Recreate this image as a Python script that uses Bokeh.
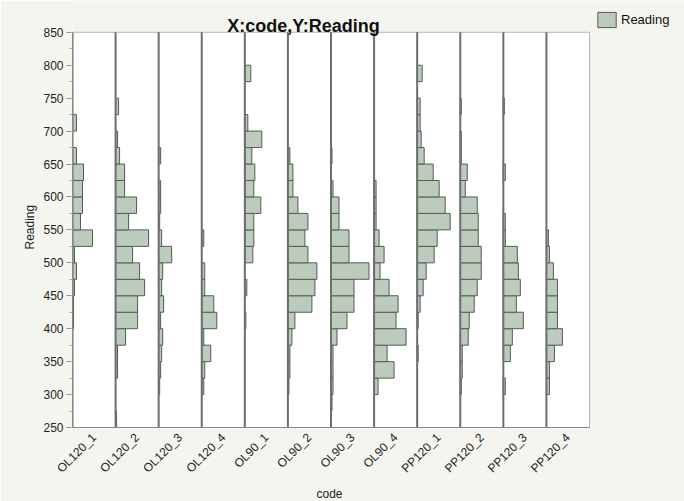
from bokeh.plotting import figure
from bokeh.models import (ColumnDataSource, FixedTicker, SingleIntervalTicker, Legend,
                          LegendItem, Title, Range1d, Label)
from bokeh.embed import file_html
from bokeh.resources import INLINE
import math

codes = ["OL120_1", "OL120_2", "OL120_3", "OL120_4", "OL90_1", "OL90_2",
         "OL90_3", "OL90_4", "PP120_1", "PP120_2", "PP120_3", "PP120_4"]
# bin lower edges 250, 275, ..., 825 (width 25)
bin_starts = list(range(250, 850, 25))
counts_OL120_1 = [0,0,0,0,0,0,1,1,2,4,2,20,8,10,10,11,4,0,4,0,0,0,0,0]
counts_OL120_2 = [1,0,0,2,2,10,22,22,29,24,17,33,13,21,9,9,4,2,0,3,0,0,0,0]
counts_OL120_3 = [0,0,1,2,3,4,2,5,3,4,13,3,1,2,2,0,2,0,0,0,0,0,0,0]
counts_OL120_4 = [0,0,2,3,9,2,15,12,3,3,0,2,0,0,0,0,0,0,0,0,0,0,0,0]
counts_OL90_1 = [0,0,0,0,0,0,1,0,2,0,8,9,9,16,9,10,7,17,3,0,0,6,0,0]
counts_OL90_2 = [0,0,1,2,2,4,7,24,27,29,20,17,20,10,5,5,2,0,0,0,0,0,0,0]
counts_OL90_3 = [0,1,2,2,2,6,16,23,23,38,18,18,8,8,2,0,1,0,0,0,0,0,0,0]
counts_OL90_4 = [0,0,4,20,13,32,22,24,15,6,10,5,2,2,2,0,0,0,0,0,0,0,0,0]
counts_PP120_1 = [0,0,0,0,1,0,1,3,6,9,17,20,33,28,22,16,7,4,3,3,0,5,0,0]
counts_PP120_2 = [0,0,1,2,2,8,9,14,17,21,21,18,18,17,5,7,1,1,0,1,0,0,0,0]
counts_PP120_3 = [0,0,2,0,7,9,20,13,17,15,14,2,2,0,0,2,0,0,0,1,0,0,0,0]
counts_PP120_4 = [0,0,3,3,8,16,11,11,11,7,3,2,0,0,0,0,0,0,0,0,0,0,0,0]
y_min, y_max = 250, 850

all_counts = [counts_OL120_1, counts_OL120_2, counts_OL120_3, counts_OL120_4,
              counts_OL90_1, counts_OL90_2, counts_OL90_3, counts_OL90_4,
              counts_PP120_1, counts_PP120_2, counts_PP120_3, counts_PP120_4]

# layout (pixels)
W, H = 684, 501
LEFT, BOTTOM_PX = 72, 430          # frame left edge, y of value 250
PLOT_W, PLOT_H = 517, 398          # width of the 12 bands, height of 250..850
n = len(codes)
px_per_x = PLOT_W / n
px_per_y = PLOT_H / (y_max - y_min)
x_end = (W - LEFT) / px_per_x
y_end = y_min + BOTTOM_PX / px_per_y   # frame reaches the top of the canvas

k = 1.0 / px_per_x  # one count = one pixel of bar length

ys, lefts, rights = [], [], []
for i, cnts in enumerate(all_counts):
    for b, c in zip(bin_starts, cnts):
        if c > 0:
            ys.append(b + 12.5)
            lefts.append(i)
            rights.append(i + c * k)
src = ColumnDataSource(dict(y=ys, left=lefts, right=rights))

BG = "#f5f5f0"
p = figure(width=W, height=H, output_backend="svg", toolbar_location=None,
           x_range=Range1d(0, x_end), y_range=Range1d(y_min, y_end),
           min_border_left=LEFT, min_border_right=0, min_border_top=0,
           min_border_bottom=H - BOTTOM_PX,
           background_fill_color=BG, border_fill_color=BG)
p.outline_line_color = None
p.grid.visible = False

# plot area
p.quad(left=[0], right=[n], bottom=[y_min], top=[y_max],
       fill_color="white", line_color="#b4b4b4", line_width=1)

r = p.hbar(y="y", left="left", right="right", height=25, source=src,
           fill_color="#bccbbc", line_color="#4f5f4f", line_width=1)

p.segment(x0=list(range(n)), x1=list(range(n)), y0=[y_min]*n, y1=[y_max]*n,
          line_color="#6e6e6e", line_width=2)

# axes
p.yaxis.bounds = (y_min, y_max)
p.yaxis.ticker = SingleIntervalTicker(interval=50, num_minor_ticks=2)
p.yaxis.major_label_text_font = "Liberation Sans"
p.yaxis.major_label_text_font_size = "12px"
p.yaxis.major_label_text_color = "#222222"
p.yaxis.major_label_standoff = 3
p.yaxis.major_tick_in = 0
p.yaxis.major_tick_out = 6
p.yaxis.minor_tick_in = 0
p.yaxis.minor_tick_out = 3
p.yaxis.axis_line_color = "#888888"
p.yaxis.major_tick_line_color = "#888888"
p.yaxis.minor_tick_line_color = "#aaaaaa"

p.xaxis.bounds = (0, n)
p.xaxis.ticker = FixedTicker(ticks=[i + 0.5 for i in range(n)])
p.xaxis.major_label_overrides = {i + 0.5: codes[i] for i in range(n)}
p.xaxis.major_label_orientation = math.pi / 4
p.xaxis.major_label_text_font = "Liberation Sans"
p.xaxis.major_label_text_font_size = "12px"
p.xaxis.major_label_text_color = "#222222"
p.xaxis.major_label_standoff = 2
p.xaxis.major_tick_line_color = None
p.xaxis.minor_tick_line_color = None
p.xaxis.axis_line_color = "#888888"

# axis titles
p.add_layout(Title(text="code", align="left", offset=316 - LEFT,
                   text_font="Liberation Sans", text_font_size="12px",
                   text_font_style="normal", text_color="#222222", standoff=2), "below")
p.add_layout(Title(text="Reading", align="left", offset=BOTTOM_PX - 252,
                   text_font="Liberation Sans", text_font_size="12px",
                   text_font_style="normal", text_color="#222222", standoff=8), "left")

# chart title
title_x = (303 - LEFT) / px_per_x
title_y = y_max + (32 - 26) / px_per_y
p.add_layout(Label(x=title_x, y=title_y, text="X:code,Y:Reading",
                   text_align="center", text_baseline="alphabetic",
                   text_font="Liberation Sans", text_font_size="18px",
                   text_font_style="bold", text_color="#111111"))

legend = Legend(items=[LegendItem(label="Reading", renderers=[r])],
                location=(595 - LEFT, BOTTOM_PX - 32), glyph_width=23, glyph_height=19,
                padding=0, margin=0, spacing=0, label_standoff=3,
                border_line_color=None, background_fill_alpha=0,
                label_text_font="Liberation Sans", label_text_font_size="13px",
                label_text_color="#111111")
p.add_layout(legend, "center")

open("out.html", "w").write(file_html(p, INLINE))
